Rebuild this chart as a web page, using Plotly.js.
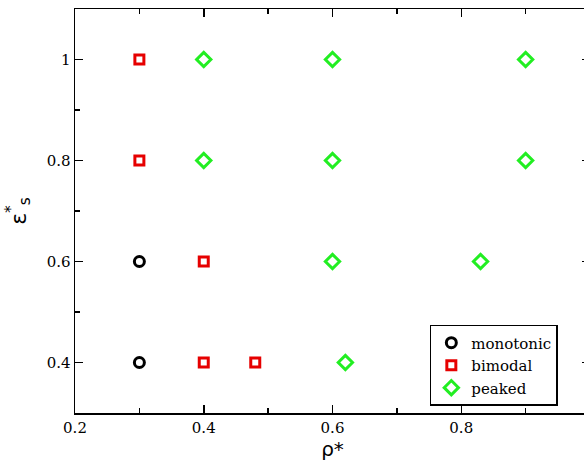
<!DOCTYPE html>
<html><head><meta charset="utf-8">
<script src="https://cdn.plot.ly/plotly-3.0.1.min.js"></script>
<style>html,body{margin:0;padding:0;overflow:hidden;background:#fff;width:584px;height:463px;}</style>
</head><body><div id="chart"></div>
<script>
const seriesNames = ["monotonic", "bimodal", "peaked"];
const monotonicX = [0.3, 0.3];
const monotonicY = [0.6, 0.4];
const bimodalX = [0.3, 0.3, 0.4, 0.4, 0.48];
const bimodalY = [1.0, 0.8, 0.6, 0.4, 0.4];
const peakedX = [0.4, 0.6, 0.9, 0.4, 0.6, 0.9, 0.6, 0.83, 0.62];
const peakedY = [1.0, 1.0, 1.0, 0.8, 0.8, 0.8, 0.6, 0.6, 0.4];
const xTickVals = [0.2, 0.4, 0.6, 0.8, 1.0];
const xTickText = ["0.2", "0.4", "0.6", "0.8", "1"];
const yTickVals = [0.4, 0.6, 0.8, 1.0];
const yTickText = ["0.4", "0.6", "0.8", "1"];

const SERIF = 'DejaVu Serif';
const mk = (x, y, name, symbol, color, size) => ({
  x, y, name, type: 'scatter', mode: 'markers',
  marker: {symbol, size, color, line: {color, width: 3}}
});
const traces = [
  mk(monotonicX, monotonicY, seriesNames[0], 'circle-open', '#000000', 10),
  mk(bimodalX, bimodalY, seriesNames[1], 'square-open', '#e60000', 9),
  mk(peakedX, peakedY, seriesNames[2], 'diamond-open', '#22ee22', 11)
];
const axisCommon = {
  showline: true, linecolor: '#000', linewidth: 1.5, mirror: 'ticks',
  ticks: 'inside', ticklen: 8, tickwidth: 1.5, tickcolor: '#000',
  showgrid: false, zeroline: false,
  tickfont: {family: SERIF, size: 15, color: '#000'},
  minor: {tickmode: 'linear', dtick: 0.1, ticks: 'inside', ticklen: 5, tickwidth: 1.5, tickcolor: '#000', showgrid: false}
};
const layout = {
  width: 591, height: 463,
  margin: {l: 75, r: 1, t: 9, b: 50},
  paper_bgcolor: '#fff', plot_bgcolor: '#fff',
  showlegend: true,
  xaxis: Object.assign({}, axisCommon, {
    range: [0.2, 1.0], tickmode: 'array', tickvals: xTickVals, ticktext: xTickText,
    minor: Object.assign({}, axisCommon.minor, {tick0: 0.2}),
    title: {text: 'ρ*', font: {family: 'DejaVu Sans', size: 20, color: '#000'}, standoff: 2}
  }),
  yaxis: Object.assign({}, axisCommon, {
    range: [0.3, 1.1], tickmode: 'array', tickvals: yTickVals, ticktext: yTickText,
    minor: Object.assign({}, axisCommon.minor, {tick0: 0.3}),
    title: {text: 'ε<sup>*</sup><sub>s</sub>', font: {family: 'DejaVu Sans', size: 22, color: '#000'}, standoff: 14}
  }),
  legend: {
    x: 0.689, y: 0.218, xanchor: 'left', yanchor: 'top',
    bgcolor: '#fff', bordercolor: '#000', borderwidth: 1.5,
    font: {family: SERIF, size: 15, color: '#000'},
    tracegroupgap: 0, itemwidth: 30
  }
};
Plotly.newPlot('chart', traces, layout, {displayModeBar: false, staticPlot: true});
</script></body></html>
